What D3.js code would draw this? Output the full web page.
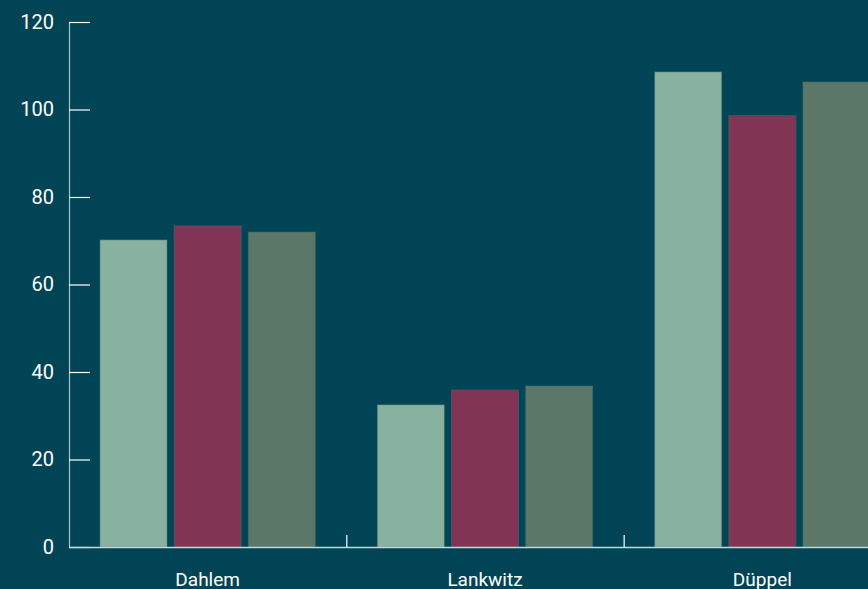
<!DOCTYPE html>
<html>
<head>
<meta charset="utf-8">
<script src="https://cdn.jsdelivr.net/npm/d3@7"></script>
<style>
  body { margin: 0; background: #004455; }
  svg { display: block; }
</style>
</head>
<body>
<div id="chart"></div>
<script>
// group names and the three series per group
var categories = ["Dahlem", "Lankwitz", "Düppel"];
var seriesNames = ["s1", "s2", "s3"];
var series1 = [70.2, 32.5, 108.6];
var series2 = [73.4, 35.9, 98.6];
var series3 = [72.0, 36.8, 106.3];
var yTicks = [0, 20, 40, 60, 80, 100, 120];
var colors = ["#88b2a0", "#813453", "#5a7768"];

var margin = {top: 22, right: -33, bottom: 42, left: 69},
    width = 868 - margin.left - margin.right,
    height = 589 - margin.top - margin.bottom;

var svg = d3.select("#chart")
  .append("svg")
    .attr("width", 868)
    .attr("height", 589)
  .append("g")
    .attr("transform", "translate(" + margin.left + "," + margin.top + ")");

var x = d3.scaleBand()
  .domain(categories)
  .range([0, width])
  .padding(0);

var xInner = d3.scaleBand()
  .domain(seriesNames)
  .range([0, x.bandwidth()])
  .paddingInner(0.095)
  .paddingOuter(0.4175);

var y = d3.scaleLinear()
  .domain([0, 120])
  .range([height, 0]);

// build rows from the arrays
var rows = categories.map(function(c, i) {
  return {group: c, values: [series1[i], series2[i], series3[i]]};
});

var groups = svg.selectAll("g.grp")
  .data(rows)
  .enter()
  .append("g")
    .attr("class", "grp")
    .attr("transform", function(d) { return "translate(" + x(d.group) + ",0)"; });

groups.selectAll("rect")
  .data(function(d) { return d.values.map(function(v, j) { return {key: seriesNames[j], value: v, i: j}; }); })
  .enter()
  .append("rect")
    .attr("x", function(d) { return xInner(d.key); })
    .attr("y", function(d) { return y(d.value); })
    .attr("width", xInner.bandwidth())
    .attr("height", function(d) { return height - y(d.value); })
    .attr("fill", function(d) { return colors[d.i]; })
    .attr("stroke", "#3f6b6c")
    .attr("stroke-opacity", 0.5)
    .attr("stroke-width", 1);

// y axis, ticks pointing into the plot
var yAxis = svg.append("g")
  .call(d3.axisLeft(y).tickValues(yTicks).tickSize(-21).tickSizeOuter(0).tickPadding(15));
yAxis.select(".domain").attr("stroke", "#a9c3c6").attr("stroke-width", 1.2);
yAxis.selectAll(".tick line").attr("stroke", "#ffffff").attr("stroke-width", 1.2);
yAxis.selectAll(".tick text")
  .attr("fill", "#ffffff")
  .style("font-family", "Roboto, sans-serif")
  .style("font-size", "20px");

// x axis: labels under bands, small ticks at band edges
var xAxis = svg.append("g")
  .attr("transform", "translate(0," + height + ")")
  .call(d3.axisBottom(x).tickSize(0).tickSizeOuter(0));
xAxis.select(".domain").attr("stroke", "#c4d6d8").attr("stroke-width", 1.5);
xAxis.selectAll(".tick text")
  .attr("fill", "#ffffff")
  .attr("y", 39)
  .attr("dy", "0")
  .style("font-family", "Roboto, sans-serif")
  .style("font-size", "19px");

xAxis.selectAll("line.edge")
  .data(categories.slice(1))
  .enter()
  .append("line")
    .attr("class", "edge")
    .attr("x1", function(d) { return x(d) + 0.5; })
    .attr("x2", function(d) { return x(d) + 0.5; })
    .attr("y1", 0)
    .attr("y2", -12)
    .attr("stroke", "#ffffff")
    .attr("stroke-width", 1.2);
</script>
</body>
</html>
